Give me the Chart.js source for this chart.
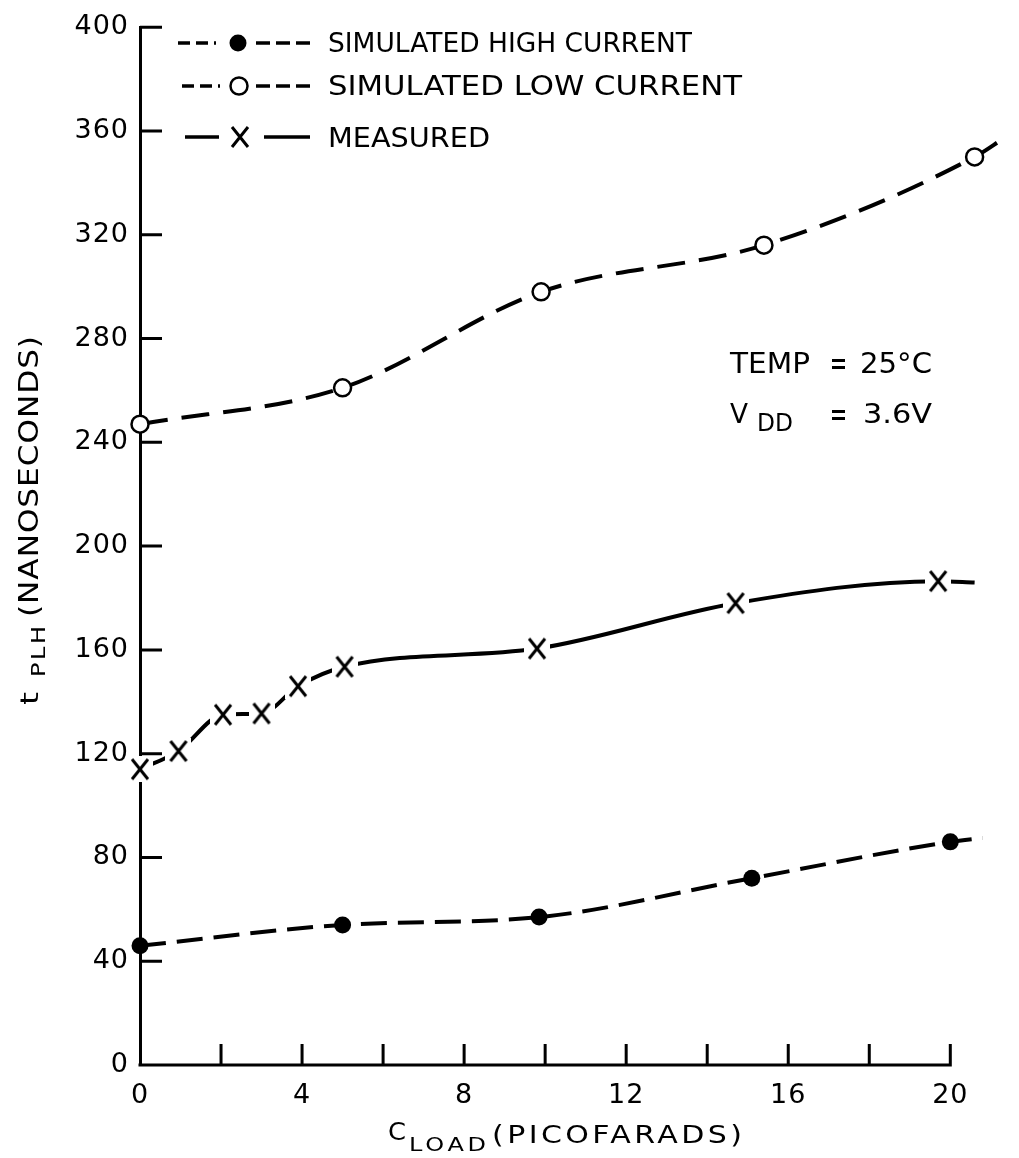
<!DOCTYPE html>
<html>
<head>
<meta charset="utf-8">
<script src="https://cdn.jsdelivr.net/npm/chart.js@4.4.1/dist/chart.umd.min.js"></script>
<style>
  html, body { margin: 0; padding: 0; background: #fff; }
</style>
</head>
<body>
<canvas id="chart" width="1019" height="1158"></canvas>
<script>
// values (x = load in pF, y = tPLH in ns)
// the last point of each curve is where the line runs out, no marker there
const hiX = [0, 5, 9.85, 15.1, 20, 20.8];
const hiY = [46, 54, 57, 72, 86, 87.5];

const loX = [0, 5, 9.9, 15.4, 20.6, 21.3];
const loY = [247, 261, 298, 316, 350, 357];

const msX = [0, 0.95, 2.05, 3, 3.9, 5.05, 9.8, 14.7, 19.7, 20.6];
const msY = [114, 121, 135, 135.5, 146, 153.5, 160.5, 178, 186.5, 186];

const xTickVals = [0, 2, 4, 6, 8, 10, 12, 14, 16, 18, 20];   // labels on every other one
const yTickStep = 40;

const FONT = '"DejaVu Sans", sans-serif';

function pts(xs, ys) {
  return xs.map((x, i) => ({ x: x, y: ys[i] }));
}

// "X" marker with a white box behind it so the line breaks around it
function xMarker() {
  const c = document.createElement('canvas');
  c.width = 26; c.height = 26;
  const g = c.getContext('2d');
  g.fillStyle = '#fff';
  g.fillRect(0, 0, 26, 26);
  g.strokeStyle = '#000';
  g.lineWidth = 3;
  g.beginPath();
  g.moveTo(5, 3); g.lineTo(21, 23);
  g.moveTo(21, 3); g.lineTo(5, 23);
  g.stroke();
  return c;
}
const xMark = xMarker();

function lastNone(n, r) {
  return c => (c.dataIndex < n - 1 ? r : 0);
}

// text stretched (a bit) and spaced so it runs from x0 to x1
function fitText(ctx, text, x0, x1, y, size) {
  ctx.save();
  ctx.font = size + 'px ' + FONT;
  ctx.letterSpacing = '0px';
  ctx.textAlign = 'left';
  ctx.textBaseline = 'alphabetic';
  const w = ctx.measureText(text).width;
  const target = x1 - x0;
  let k = target / w, sp = 0;
  if (k > 1.2 && text.length > 1) {
    k = 1.2;
    sp = (target / k - w) / (text.length - 1);
  }
  ctx.translate(x0, y);
  ctx.scale(k, 1);
  ctx.letterSpacing = sp.toFixed(2) + 'px';
  ctx.fillText(text, 0, 0);
  ctx.restore();
}

// the "=" signs: two short bars
function equals(ctx, x, y) {
  ctx.fillRect(x, y - 4, 13, 3);
  ctx.fillRect(x, y + 3, 13, 3);
}

const axesPlugin = {
  id: 'axesMarks',
  beforeDraw(chart) {
    chart.ctx.letterSpacing = '1px';
  },
  beforeDatasetsDraw(chart) {
    const ctx = chart.ctx, sx = chart.scales.x, sy = chart.scales.y;
    const x0 = sx.getPixelForValue(0), x20 = sx.getPixelForValue(20);
    const y0 = sy.getPixelForValue(0);
    ctx.save();
    ctx.strokeStyle = '#000';
    ctx.lineWidth = 3;
    ctx.beginPath();
    ctx.moveTo(x0 - 1.5, y0);
    ctx.lineTo(x20 + 1.5, y0);
    sx.ticks.forEach(t => {
      if (t.value <= 0) return;
      const p = sx.getPixelForValue(t.value);
      ctx.moveTo(p, y0);
      ctx.lineTo(p, y0 - 21);
    });
    sy.ticks.forEach(t => {
      if (t.value <= 0) return;
      const p = sy.getPixelForValue(t.value);
      ctx.moveTo(x0, p);
      ctx.lineTo(x0 + 22, p);
    });
    ctx.stroke();
    ctx.restore();
  },
  afterDraw(chart) {
    const ctx = chart.ctx;
    ctx.save();
    ctx.fillStyle = '#000';
    ctx.strokeStyle = '#000';

    // legend
    ctx.lineWidth = 3.5;
    ctx.setLineDash([12, 6]);
    ctx.beginPath(); ctx.moveTo(178, 43); ctx.lineTo(216, 43); ctx.stroke();
    ctx.setLineDash([14, 6]);
    ctx.beginPath(); ctx.moveTo(256, 43); ctx.lineTo(314, 43); ctx.stroke();
    ctx.setLineDash([]);
    ctx.beginPath(); ctx.arc(238, 43, 8.5, 0, Math.PI * 2); ctx.fill();

    ctx.setLineDash([12, 6]);
    ctx.beginPath(); ctx.moveTo(182, 86); ctx.lineTo(220, 86); ctx.stroke();
    ctx.setLineDash([14, 6]);
    ctx.beginPath(); ctx.moveTo(256, 86); ctx.lineTo(314, 86); ctx.stroke();
    ctx.setLineDash([]);
    ctx.lineWidth = 2.5;
    ctx.beginPath(); ctx.arc(239, 86, 8.5, 0, Math.PI * 2); ctx.stroke();

    ctx.lineWidth = 3.5;
    ctx.beginPath();
    ctx.moveTo(185, 137); ctx.lineTo(219, 137);
    ctx.moveTo(264, 137); ctx.lineTo(310, 137);
    ctx.stroke();
    ctx.drawImage(xMark, 240 - 13, 137 - 13);

    fitText(ctx, 'SIMULATED HIGH CURRENT', 328, 692, 52, 26);
    fitText(ctx, 'SIMULATED LOW CURRENT', 328, 742, 95, 26);
    fitText(ctx, 'MEASURED', 328, 490, 147, 26);

    // conditions
    fitText(ctx, 'TEMP', 730, 810, 373, 28);
    equals(ctx, 832, 363);
    fitText(ctx, '25°C', 860, 932, 373, 28);
    fitText(ctx, 'V', 730, 748, 423, 26);
    fitText(ctx, 'DD', 757, 793, 431, 24);
    equals(ctx, 832, 414);
    fitText(ctx, '3.6V', 863, 932, 423, 27);

    // x axis title
    fitText(ctx, 'C', 388, 406, 1140, 24);
    fitText(ctx, 'LOAD', 409, 486, 1151, 20);
    fitText(ctx, '(PICOFARADS)', 492, 742, 1143, 25);

    // y axis title, rotated
    ctx.translate(38, 0);
    ctx.rotate(-Math.PI / 2);
    fitText(ctx, 't', -705, -692, 0, 25);
    fitText(ctx, 'PLH', -677, -626, 7, 20);
    fitText(ctx, '(NANOSECONDS)', -617, -336, 0, 26);
    ctx.restore();
  }
};

new Chart(document.getElementById('chart'), {
  type: 'line',
  data: {
    datasets: [
      {
        label: 'SIMULATED HIGH CURRENT',
        data: pts(hiX, hiY),
        borderColor: '#000',
        borderWidth: 4,
        borderDash: [26, 11],
        pointStyle: 'circle',
        pointRadius: lastNone(hiX.length, 8.5),
        pointBackgroundColor: '#000',
        pointBorderColor: '#000',
        pointBorderWidth: 0,
        cubicInterpolationMode: 'monotone',
        clip: false
      },
      {
        label: 'SIMULATED LOW CURRENT',
        data: pts(loX, loY),
        borderColor: '#000',
        borderWidth: 4,
        borderDash: [28, 14],
        pointStyle: 'circle',
        pointRadius: lastNone(loX.length, 8.5),
        pointBackgroundColor: '#fff',
        pointBorderColor: '#000',
        pointBorderWidth: 2.5,
        cubicInterpolationMode: 'monotone',
        clip: false
      },
      {
        label: 'MEASURED',
        data: pts(msX, msY),
        borderColor: '#000',
        borderWidth: 4,
        pointStyle: xMark,
        pointRadius: lastNone(msX.length, 10),
        cubicInterpolationMode: 'monotone',
        clip: false
      }
    ]
  },
  options: {
    responsive: false,
    animation: false,
    events: [],
    layout: { padding: { top: 17, right: 6, left: 0, bottom: 0 } },
    plugins: {
      legend: { display: false },
      tooltip: { enabled: false }
    },
    scales: {
      x: {
        type: 'linear',
        min: 0,
        max: 21.35,
        afterBuildTicks: s => { s.ticks = xTickVals.map(v => ({ value: v })); },
        afterFit: s => { s.height = 93; },
        grid: { display: false, drawTicks: false },
        border: { display: false },
        ticks: {
          autoSkip: false,
          maxRotation: 0,
          padding: 15,
          color: '#000',
          font: { family: FONT, size: 27 },
          callback: v => (v % 4 === 0 ? v : '')
        }
      },
      y: {
        type: 'linear',
        min: 0,
        max: 400,
        afterFit: s => { s.width = 140; },
        grid: { display: false, drawTicks: false },
        border: { display: true, color: '#000', width: 3 },
        ticks: {
          stepSize: yTickStep,
          padding: 11,
          color: '#000',
          font: { family: FONT, size: 27 }
        }
      }
    }
  },
  plugins: [axesPlugin]
});
</script>
</body>
</html>
